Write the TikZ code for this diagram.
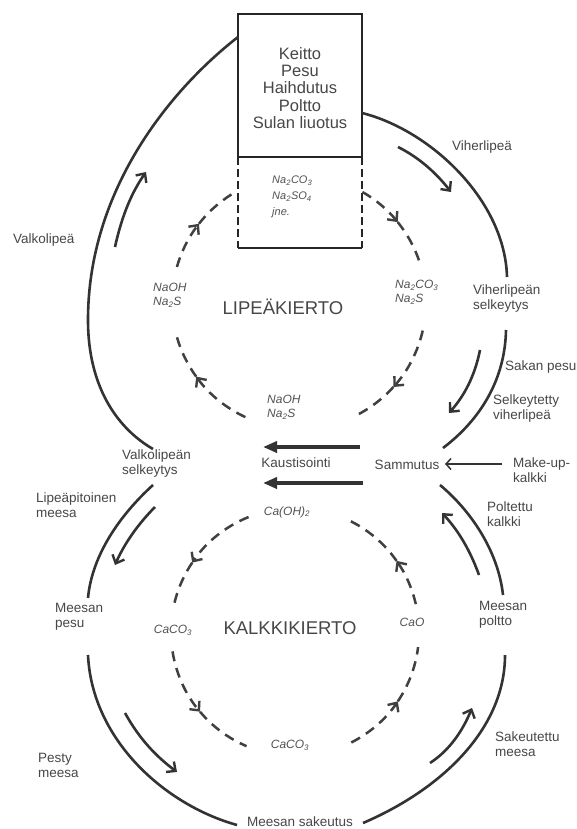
\documentclass[tikz,border=0pt]{standalone}
\usepackage{fontspec}
\setmainfont{Liberation Sans}
\usetikzlibrary{arrows.meta}

\tikzset{
  flow/.style={line width=2.6pt, draw=black!80},
  sideflow/.style={flow, -{Straight Barb[length=7pt,width=13pt,line width=2.4pt]}},
  cyc/.style={line width=2.5pt, draw=black!75, dash pattern=on 10pt off 7pt},
  cyctip/.style={cyc, -{Straight Barb[length=7pt,width=13pt,line width=2.4pt]}},
  lbl/.style={text=black!72, font=\fontsize{13.5}{15}\selectfont, align=left, inner sep=0pt},
  chem/.style={text=black!68, font=\fontsize{12}{14}\selectfont\itshape, align=left, inner sep=0pt},
  big/.style={text=black!72, font=\fontsize{18.5}{20}\selectfont, inner sep=0pt}
}

\begin{document}
\begin{tikzpicture}[x=1pt, y=-1pt]
    \fill[white] (0,0) rectangle (577,829);
    \useasboundingbox (0,0) rectangle (577,829);

    % process box
    \draw[line width=2.4pt, black!85] (238,14) rectangle (362,157);
    \draw[line width=2.4pt, black!85, dash pattern=on 8pt off 4pt] (238,157) -- (238,248);
    \draw[line width=2.4pt, black!85, dash pattern=on 8pt off 4pt] (362,157) -- (362,248);
    \draw[line width=2.4pt, black!85] (238,248) -- (362,248);
    \node[text=black!72, font=\fontsize{16.5}{17.2}\selectfont, align=center, inner sep=0pt] (stages) at (300,88)
        {Keitto\\Pesu\\Haihdutus\\Poltto\\Sulan liuotus};
    \node[chem, font=\fontsize{11}{16}\selectfont\itshape, anchor=north west] (salts) at (272,176)
        {Na\textsubscript{2}CO\textsubscript{3}\\Na\textsubscript{2}SO\textsubscript{4}\\jne.};

    % outer loop coordinates
    \coordinate (boxL) at (238,37);
    \coordinate (boxR) at (362,113);
    \coordinate (vselN) at (153,449);
    \coordinate (vselS) at (153,485);
    \coordinate (vhselN) at (507,277);
    \coordinate (vhselS) at (506,330);
    \coordinate (samN) at (443,448);
    \coordinate (samS) at (440,485);
    \coordinate (mpolN) at (503,595);
    \coordinate (mpolS) at (505,655);
    \coordinate (msakR) at (363,823);
    \coordinate (msakL) at (237,825);
    \coordinate (mpesS) at (88,655);
    \coordinate (mpesN) at (88,598);

    \draw[flow] (boxL) .. controls (170,90) and (88,190) .. (88,320) .. controls (88,390) and (120,430) .. (vselN);
    \draw[flow] (boxR) .. controls (430,130) and (505,200) .. (vhselN);
    \draw[flow] (vhselS) .. controls (505,380) and (480,420) .. (samN);
    \draw[flow] (samS) .. controls (470,510) and (498,550) .. (mpolN);
    \draw[flow] (mpolS) .. controls (505,730) and (440,790) .. (msakR);
    \draw[flow] (mpesS) .. controls (92,740) and (165,805) .. (msakL);
    \draw[flow] (vselS) .. controls (120,515) and (92,555) .. (mpesN);

    % direction arrows beside the loop
    \draw[sideflow] (115,247) .. controls (122,215) and (132,192) .. (146,172);
    \draw[sideflow] (398,147) .. controls (420,158) and (437,174) .. (451,192);
    \draw[sideflow] (480,350) .. controls (475,375) and (465,395) .. (449,413);
    \draw[sideflow] (479,575) .. controls (470,550) and (458,530) .. (442,513);
    \draw[sideflow] (430,763) .. controls (450,750) and (463,730) .. (472,708);
    \draw[sideflow] (125,713) .. controls (140,740) and (157,757) .. (177,772);
    \draw[sideflow] (155,507) .. controls (140,522) and (125,542) .. (115,565);

    % labels on the loop
    \node[lbl, anchor=west] (valko) at (13,240) {Valkolipeä};
    \node[lbl, anchor=west] (viher) at (452,147) {Viherlipeä};
    \node[lbl, anchor=west] (vhsel) at (473,299) {Viherlipeän\\selkeytys};
    \node[lbl, anchor=west] (sakan) at (505,367) {Sakan pesu};
    \node[lbl, anchor=west] (selk) at (493,409) {Selkeytetty\\viherlipeä};
    \node[lbl] (sammutus) at (407,465) {Sammutus};
    \node[lbl, anchor=west] (makeup) at (513,470) {Make-up-\\kalkki};
    \node[lbl, anchor=west] (poltettu) at (487,514) {Poltettu\\kalkki};
    \node[lbl, anchor=west] (mpol) at (479,615) {Meesan\\poltto};
    \node[lbl, anchor=west] (sakeutettu) at (495,744) {Sakeutettu\\meesa};
    \node[lbl] (msak) at (300,822) {Meesan sakeutus};
    \node[lbl, anchor=west] (pesty) at (38,765) {Pesty\\meesa};
    \node[lbl, anchor=west] (mpes) at (55,617) {Meesan\\pesu};
    \node[lbl, anchor=west] (lipea) at (36,505) {Lipeäpitoinen\\meesa};
    \node[lbl, anchor=west] (vsel) at (122,464) {Valkolipeän\\selkeytys};
    \node[lbl] (kaus) at (296,463) {Kaustisointi};

    % causticizing arrows
    \coordinate (kausA) at (360,447);
    \coordinate (kausB) at (263,447);
    \coordinate (kausC) at (363,483);
    \coordinate (kausD) at (263,483);
    \draw[line width=3.6pt, black!80, -{Triangle[length=14pt,width=11pt]}] (kausA) -- (kausB);
    \draw[line width=3.6pt, black!80, -{Triangle[length=14pt,width=11pt]}] (kausC) -- (kausD);
    \coordinate (makeupA) at (502,464);
    \coordinate (makeupB) at (445,464);
    \draw[line width=1.5pt, black!80, -{Straight Barb[length=5pt,width=11pt]}] (makeupA) -- (makeupB);

    % liquor cycle
    \coordinate (lc) at (299,302);
    \node[big] (lipekierto) at (283,307) {LIPEÄKIERTO};
    \node[chem, anchor=west] (naohL) at (153,295) {NaOH\\Na\textsubscript{2}S};
    \node[chem, anchor=west] (na2co3) at (395,292) {Na\textsubscript{2}CO\textsubscript{3}\\Na\textsubscript{2}S};
    \node[chem, anchor=west] (naohB) at (267,407) {NaOH\\Na\textsubscript{2}S};
    \draw[cyctip] (lc) ++(196:127) arc[start angle=196, end angle=218, radius=127];
    \draw[cyc] (lc) ++(218:127) arc[start angle=218, end angle=241, radius=127];
    \draw[cyctip] (lc) ++(300:127) arc[start angle=300, end angle=321, radius=127];
    \draw[cyc] (lc) ++(321:127) arc[start angle=321, end angle=344, radius=127];
    \draw[cyctip] (lc) ++(13:127) arc[start angle=13, end angle=42, radius=127];
    \draw[cyc] (lc) ++(42:127) arc[start angle=42, end angle=64.5, radius=127];
    \draw[cyctip] (lc) ++(115:127) arc[start angle=115, end angle=144, radius=127];
    \draw[cyc] (lc) ++(144:127) arc[start angle=144, end angle=167, radius=127];

    % lime cycle
    \coordinate (kc) at (295,632);
    \node[big] (kalkkikierto) at (290,628) {KALKKIKIERTO};
    \node[chem] (caoh) at (287,512) {Ca(OH)\textsubscript{2}};
    \node[chem] (caco3L) at (173,630) {CaCO\textsubscript{3}};
    \node[chem] (cao) at (412,622) {CaO};
    \node[chem] (caco3B) at (290,745) {CaCO\textsubscript{3}};
    \draw[cyctip] (kc) ++(248:124) arc[start angle=248, end angle=214, radius=124];
    \draw[cyc] (kc) ++(214:124) arc[start angle=214, end angle=193, radius=124];
    \draw[cyctip] (kc) ++(171:124) arc[start angle=171, end angle=140, radius=124];
    \draw[cyc] (kc) ++(140:124) arc[start angle=140, end angle=113, radius=124];
    \draw[cyctip] (kc) ++(63:124) arc[start angle=63, end angle=34, radius=124];
    \draw[cyc] (kc) ++(34:124) arc[start angle=34, end angle=7, radius=124];
    \draw[cyctip] (kc) ++(347:124) arc[start angle=347, end angle=325, radius=124];
    \draw[cyc] (kc) ++(325:124) arc[start angle=325, end angle=295, radius=124];
\end{tikzpicture}
\end{document}
